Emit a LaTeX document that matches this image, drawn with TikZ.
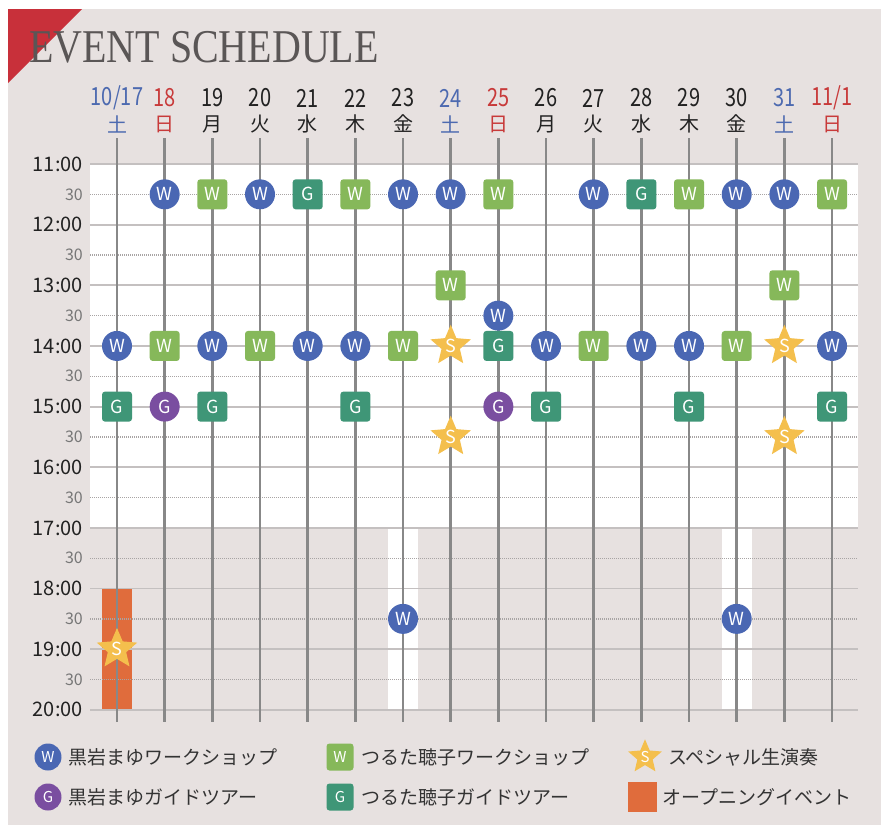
\documentclass[tikz,border=0pt]{standalone}
\usepackage{fontspec}
\usepackage{graphicx}
\setmainfont{Liberation Serif}
\newfontfamily\jp{Noto Sans CJK JP}
\usetikzlibrary{shapes.geometric}
\definecolor{bgc}{HTML}{E7E1E0}
\definecolor{redt}{HTML}{C8303A}
\definecolor{titlec}{HTML}{5A5656}
\definecolor{cblue}{HTML}{4A67B3}
\definecolor{cpurple}{HTML}{7A4EA0}
\definecolor{cgreen}{HTML}{86B85A}
\definecolor{cteal}{HTML}{3F9677}
\definecolor{cyellow}{HTML}{F4BF4D}
\definecolor{corange}{HTML}{E06C3C}
\definecolor{gridc}{HTML}{C4C0C0}
\definecolor{dotc}{HTML}{A8A4A4}
\definecolor{vlc}{HTML}{888888}
\definecolor{dblue}{HTML}{4D6AB0}
\definecolor{dred}{HTML}{C83A3A}
\definecolor{dblack}{HTML}{222222}
\definecolor{tgrey}{HTML}{777777}
\definecolor{legc}{HTML}{333333}
\newcommand\cx[1]{117+#1*47.67}
\newcommand\ty[1]{164+#1*30.325}
\newcommand\ev[4]{\node[#1] (ev-#2-#3) at ({\cx{#2}},{\ty{#3}}) {#4};}
\newcommand\dlab[4]{\node[datef, text=#4] (d#1) at ({\cx{#1}},98) {\scalebox{0.8}[1]{#2}};
  \node[wdf, text=#4] (w#1) at ({\cx{#1}},124) {#3};}
\begin{document}
\begin{tikzpicture}[x=1pt,y=-1pt,
  hl/.style={draw=gridc, line width=1.8pt},
  hh/.style={draw=dotc, line width=1.3pt, dash pattern=on 1pt off 1pt},
  vl/.style={draw=vlc, line width=2.8pt},
  mk/.style={inner sep=0pt, text=white, font=\jp\fontsize{18}{18}\selectfont},
  wb/.style={mk, circle, fill=cblue, minimum size=30pt},
  gp/.style={mk, circle, fill=cpurple, minimum size=30pt},
  wg/.style={mk, rectangle, rounded corners=3pt, fill=cgreen, minimum size=30pt},
  gt/.style={mk, rectangle, rounded corners=3pt, fill=cteal, minimum size=30pt},
  st/.style={mk, star, star points=5, star point ratio=2.2, fill=cyellow, minimum size=38pt},
  datef/.style={inner sep=0pt, font=\jp\fontsize{25}{25}\selectfont},
  wdf/.style={inner sep=0pt, font=\jp\fontsize{20}{20}\selectfont},
  hourf/.style={inner sep=0pt, anchor=east, text=dblack, font=\jp\fontsize{20}{20}\selectfont},
  halff/.style={inner sep=0pt, anchor=east, text=tgrey, font=\jp\fontsize{16}{16}\selectfont},
  legt/.style={inner sep=0pt, anchor=west, text=legc, font=\jp\fontsize{19}{19}\selectfont},
  lgm/.style={minimum size=27pt, font=\jp\fontsize{15}{15}\selectfont}
]
\useasboundingbox (0,0) rectangle (881,825);
% background
\fill[white] (0,0) rectangle (881,825);
\fill[bgc] (8,9) rectangle (881,825);
\fill[redt] (8,9) -- (82,9) -- (8,83) -- cycle;
\node[inner sep=0pt, anchor=base west, text=titlec, font=\fontsize{47}{47}\selectfont] (title) at (29,62) {\scalebox{0.85}[1]{EVENT SCHEDULE}};
% white areas
\fill[white] (90,164) rectangle (858,528);
\fill[white] (388,528) rectangle (418,709);
\fill[white] (722,528) rectangle (752,709);
\fill[corange] (102,589) rectangle (132,709);
% grid
\foreach \h in {0,2,...,18} {\draw[hl] (90,{\ty{\h}}) -- (858,{\ty{\h}});}
\foreach \h in {1,3,...,17} {\draw[hh] (90,{\ty{\h}}) -- (858,{\ty{\h}});}
% verticals
\foreach \i in {0,...,15} {
  \coordinate (top\i) at ({\cx{\i}},138);
  \coordinate (bot\i) at ({\cx{\i}},722);
  \draw[vl] (top\i) -- (bot\i);
}
% time labels
\foreach \h/\lab in {0/11:00,2/12:00,4/13:00,6/14:00,8/15:00,10/16:00,12/17:00,14/18:00,16/19:00,18/20:00}
  {\node[hourf] (t\h) at (83,{\ty{\h}}) {\lab};}
\foreach \h in {1,3,...,17}
  {\node[halff] (t\h) at (83,{\ty{\h}}) {30};}
% dates
\dlab{0}{10/17}{土}{dblue}
\dlab{1}{18}{日}{dred}
\dlab{2}{19}{月}{dblack}
\dlab{3}{20}{火}{dblack}
\dlab{4}{21}{水}{dblack}
\dlab{5}{22}{木}{dblack}
\dlab{6}{23}{金}{dblack}
\dlab{7}{24}{土}{dblue}
\dlab{8}{25}{日}{dred}
\dlab{9}{26}{月}{dblack}
\dlab{10}{27}{火}{dblack}
\dlab{11}{28}{水}{dblack}
\dlab{12}{29}{木}{dblack}
\dlab{13}{30}{金}{dblack}
\dlab{14}{31}{土}{dblue}
\dlab{15}{11/1}{日}{dred}
% events
\ev{wb}{0}{6}{W} \ev{gt}{0}{8}{G} \ev{st}{0}{16}{S}
\ev{wb}{1}{1}{W} \ev{wg}{1}{6}{W} \ev{gp}{1}{8}{G}
\ev{wg}{2}{1}{W} \ev{wb}{2}{6}{W} \ev{gt}{2}{8}{G}
\ev{wb}{3}{1}{W} \ev{wg}{3}{6}{W}
\ev{gt}{4}{1}{G} \ev{wb}{4}{6}{W}
\ev{wg}{5}{1}{W} \ev{wb}{5}{6}{W} \ev{gt}{5}{8}{G}
\ev{wb}{6}{1}{W} \ev{wg}{6}{6}{W} \ev{wb}{6}{15}{W}
\ev{wb}{7}{1}{W} \ev{wg}{7}{4}{W} \ev{st}{7}{6}{S} \ev{st}{7}{9}{S}
\ev{wg}{8}{1}{W} \ev{wb}{8}{5}{W} \ev{gt}{8}{6}{G} \ev{gp}{8}{8}{G}
\ev{wb}{9}{6}{W} \ev{gt}{9}{8}{G}
\ev{wb}{10}{1}{W} \ev{wg}{10}{6}{W}
\ev{gt}{11}{1}{G} \ev{wb}{11}{6}{W}
\ev{wg}{12}{1}{W} \ev{wb}{12}{6}{W} \ev{gt}{12}{8}{G}
\ev{wb}{13}{1}{W} \ev{wg}{13}{6}{W} \ev{wb}{13}{15}{W}
\ev{wb}{14}{1}{W} \ev{wg}{14}{4}{W} \ev{st}{14}{6}{S} \ev{st}{14}{9}{S}
\ev{wg}{15}{1}{W} \ev{wb}{15}{6}{W} \ev{gt}{15}{8}{G}
% legend
\node[wb, lgm] (l1) at (48,757) {W};
\node[legt] (l1t) at (68,757) {黒岩まゆワークショップ};
\node[wg, lgm] (l2) at (340,757) {W};
\node[legt] (l2t) at (361,757) {つるた聴子ワークショップ};
\node[st, minimum size=35pt, font=\jp\fontsize{15}{15}\selectfont] (l3) at (645,757) {S};
\node[legt] (l3t) at (668,757) {スペシャル生演奏};
\node[gp, lgm] (l4) at (48,797) {G};
\node[legt] (l4t) at (68,797) {黒岩まゆガイドツアー};
\node[gt, lgm] (l5) at (340,797) {G};
\node[legt] (l5t) at (361,797) {つるた聴子ガイドツアー};
\node[fill=corange, minimum width=29pt, minimum height=30pt, inner sep=0pt] (l6) at (642,797) {};
\node[legt] (l6t) at (662,797) {オープニングイベント};
\end{tikzpicture}
\end{document}
